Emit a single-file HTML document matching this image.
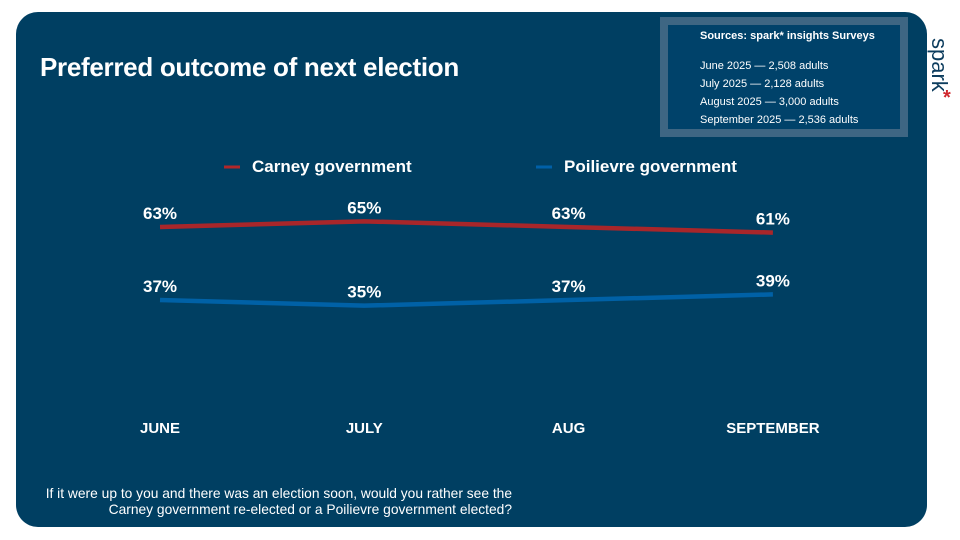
<!DOCTYPE html>
<html><head><meta charset="utf-8"><style>
body{margin:0;width:960px;height:540px;background:#fff;overflow:hidden;font-family:"Liberation Sans",sans-serif}
svg{position:absolute;left:0;top:0}
</style></head><body>
<svg width="960" height="540">
<rect x="16" y="12" width="911" height="515" rx="22" fill="#003f62"/>
<rect x="664" y="21" width="240" height="112" fill="#00426a" stroke="#3e6683" stroke-width="8"/>
<g fill="#fff" font-size="11">
<text x="700" y="39" font-weight="bold">Sources: spark* insights Surveys</text>
<text x="700" y="69">June 2025 — 2,508 adults</text>
<text x="700" y="87">July 2025 — 2,128 adults</text>
<text x="700" y="105">August 2025 — 3,000 adults</text>
<text x="700" y="123">September 2025 — 2,536 adults</text>
</g>
<text transform="translate(932,38) rotate(90)" font-size="22" fill="#0d3d5e">spark</text>
<text x="943" y="104" font-size="20" font-weight="bold" fill="#d0282e">*</text>
<text x="40" y="76" font-size="26" font-weight="bold" fill="#fff" letter-spacing="-0.3">Preferred outcome of next election</text>
<line x1="224" y1="167" x2="240" y2="167" stroke="#b0272a" stroke-width="3"/>
<text x="252" y="172" font-size="17" font-weight="bold" fill="#fff">Carney government</text>
<line x1="536" y1="167" x2="552" y2="167" stroke="#0060a8" stroke-width="3"/>
<text x="564" y="172" font-size="17" font-weight="bold" fill="#fff">Poilievre government</text>
<g id="plot"></g>
<g fill="#fff" font-size="13.8" text-anchor="end">
<text x="512" y="498">If it were up to you and there was an election soon, would you rather see the</text>
<text x="512" y="514">Carney government re-elected or a Poilievre government elected?</text>
</g>
</svg>
<script>
const categories=["JUNE","JULY","AUG","SEPTEMBER"];
const carney=[63,65,63,61];
const poilievre=[37,35,37,39];
const NS="http://www.w3.org/2000/svg";
const xPos=i=>160+i*204.3;
const yPos=v=>404-2.81*v;
const g=document.getElementById('plot');
function series(vals,color,name){
  const p=document.createElementNS(NS,'polyline');
  p.setAttribute('points',vals.map((v,i)=>xPos(i)+','+yPos(v)).join(' '));
  p.setAttribute('fill','none');p.setAttribute('stroke',color);p.setAttribute('stroke-width','4.5');
  
  
  g.appendChild(p);
  vals.forEach((v,i)=>{
    const t=document.createElementNS(NS,'text');
    t.setAttribute('x',xPos(i));t.setAttribute('y',yPos(v)-8);
    t.setAttribute('text-anchor','middle');t.setAttribute('fill','#fff');
    t.setAttribute('font-size','17');t.setAttribute('font-weight','bold');
    t.textContent=v+'%';
    
    
    g.appendChild(t);
  });
}
series(carney,'#a8262a','carney');
series(poilievre,'#0061a6','poilievre');
categories.forEach((c,i)=>{
  const t=document.createElementNS(NS,'text');
  t.setAttribute('x',xPos(i));t.setAttribute('y',433);
  t.setAttribute('text-anchor','middle');t.setAttribute('fill','#fff');
  t.setAttribute('font-size','15');t.setAttribute('font-weight','bold');
  t.textContent=c;
  
  
  g.appendChild(t);
});
</script>
</body></html>
